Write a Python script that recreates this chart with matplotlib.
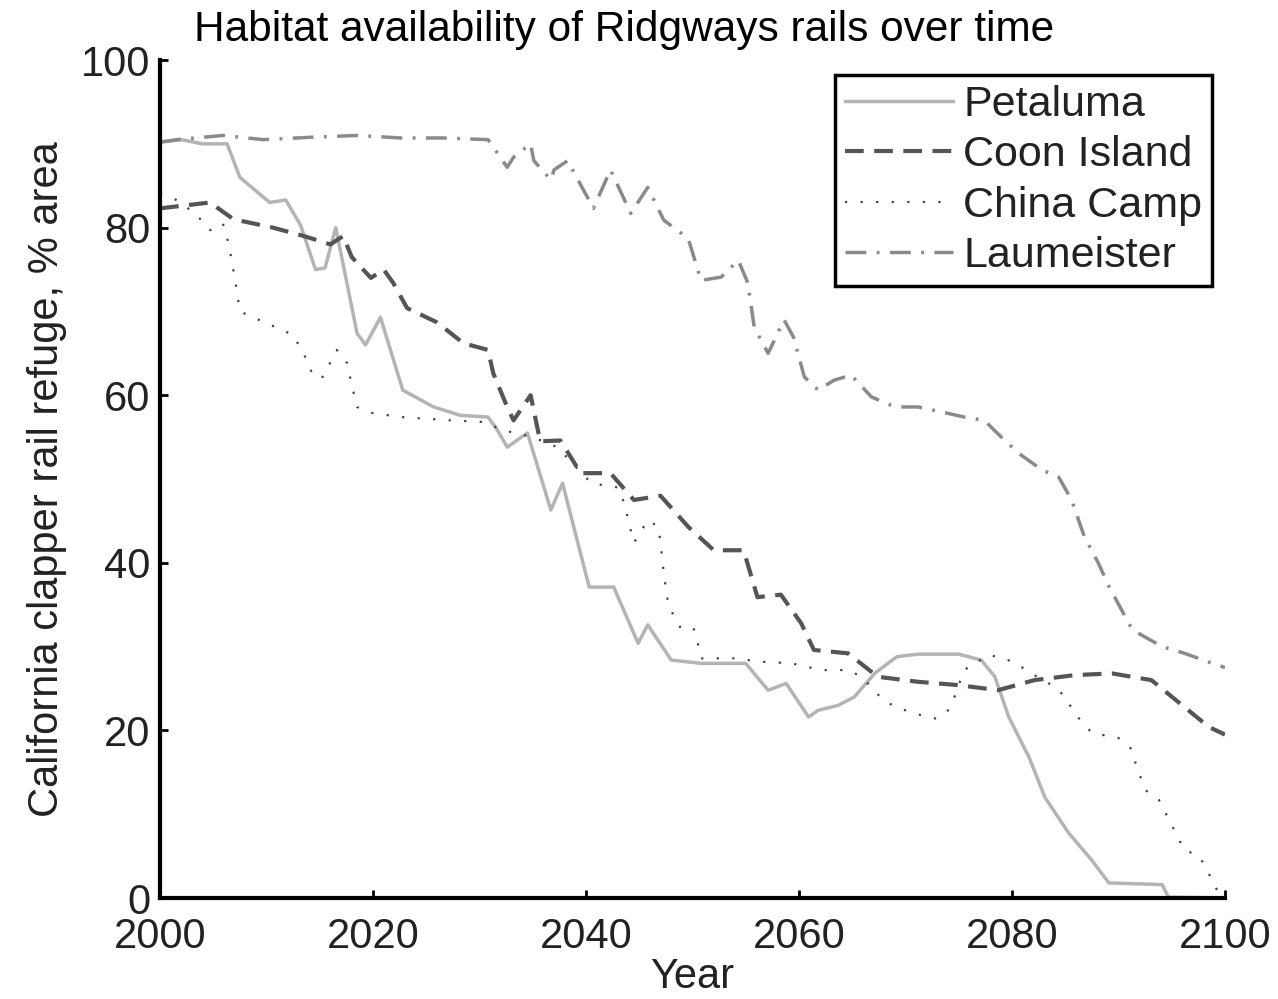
import matplotlib
matplotlib.use('Agg')
import matplotlib.pyplot as plt

plt.rcParams['font.family'] = ['Liberation Sans', 'DejaVu Sans']

# values (year, % area)
pet_years = [2000, 2002, 2004, 2006.3, 2007.5, 2010.3, 2011.8, 2013.2, 2014.6, 2015.5, 2016.5,
             2018.5, 2019.3, 2020.7, 2022.8, 2025.7, 2028.2, 2030.8, 2031.7, 2032.6, 2034.5,
             2035.1, 2036.7, 2037.8, 2040.3, 2042.6, 2044.9, 2045.8, 2048, 2050.8, 2055,
             2057.1, 2058.8, 2060.9, 2061.8, 2063.7, 2065.2, 2067.1, 2069.2, 2071.2, 2075,
             2077.1, 2078.4, 2079.7, 2081.6, 2083.1, 2085.3, 2087.5, 2089.1, 2094.1, 2094.7, 2100]
pet_vals = [90.2, 90.5, 90, 90, 86, 83, 83.3, 80.3, 75, 75.2, 80,
            67.4, 66, 69.3, 60.6, 58.6, 57.6, 57.4, 55.8, 53.8, 55.5,
            53, 46.3, 49.5, 37.1, 37.1, 30.4, 32.6, 28.4, 28, 28,
            24.8, 25.6, 21.6, 22.4, 23, 24, 26.8, 28.8, 29.1, 29.1,
            28.4, 26.4, 21.6, 16.8, 12, 7.8, 4.5, 1.8, 1.6, 0.1, 0]

coon_years = [2000, 2004.7, 2006.9, 2010.6, 2013.5, 2016, 2017.2, 2018, 2019.8, 2021, 2021.9,
              2023.2, 2026, 2028.5, 2030.8, 2031.3, 2032.6, 2033.2, 2034.8, 2035.7, 2037.6,
              2039.5, 2042.3, 2044.5, 2047, 2049.6, 2052, 2054.8, 2056.1, 2058.3, 2060.2,
              2061.4, 2064.6, 2067.4, 2071.2, 2075, 2078.7, 2082.1, 2085.9, 2089.4, 2093.1,
              2095.7, 2098.5, 2100]
coon_vals = [82.3, 83, 81, 80, 79, 78, 79, 76.5, 74, 75, 73.4,
             70.4, 68.7, 66.2, 65.4, 62.6, 58.6, 57, 60, 54.5, 54.6,
             50.7, 50.7, 47.5, 48, 44.3, 41.5, 41.5, 35.9, 36.2, 32.8,
             29.6, 29.2, 26.4, 25.8, 25.4, 24.8, 26, 26.6, 26.8, 26,
             23.3, 20.4, 19.5]

china_years = [2000, 2000.9, 2002, 2003.8, 2004.7, 2005.9, 2006.3, 2006.6, 2007.1, 2007.5, 2010,
               2012.5, 2013.8, 2014.4, 2015.3, 2016.6, 2017.6, 2017.9, 2018.5, 2019.8, 2022.6,
               2027.3, 2030.4, 2032.3, 2035, 2037.3, 2040.5, 2043, 2043.6, 2044.2, 2044.5,
               2045.8, 2046.8, 2047, 2047.3, 2047.7, 2048.3, 2048.9, 2050.1, 2050.5, 2050.8,
               2053.9, 2056.4, 2059.3, 2062.1, 2064.6, 2065.9, 2067.7, 2069, 2071.5, 2072.9,
               2074, 2074.6, 2075.5, 2077.8, 2079.3, 2080.6, 2082.1, 2084, 2085, 2085.9,
               2087.5, 2090, 2091.3, 2091.6, 2092.5, 2093.8, 2095, 2096.2, 2097.5, 2098.1,
               2098.8, 2099.4, 2100]
china_vals = [84, 83.7, 83, 81, 79.7, 80.5, 78.8, 77, 73.4, 70, 68.6,
              67.2, 64.2, 62.2, 62.2, 65.4, 63.8, 61.8, 58.6, 57.9, 57.4,
              57, 56.8, 55.8, 55, 53.8, 49.5, 49, 47.1, 43.9, 42.4,
              45.1, 44.3, 42.4, 38.8, 35.2, 33.5, 32.2, 32.2, 30.4, 28.6,
              28.6, 28.2, 28, 27.2, 27.2, 26.4, 23.9, 22.8, 21.8, 21.4,
              22.4, 24, 27.2, 29, 28.6, 27.8, 26.6, 25.2, 24, 22,
              19.7, 19.1, 17.7, 16.1, 12.9, 11.7, 8.7, 5.7, 5.1, 3.9,
              2.1, 0.6, 0]

laum_years = [2000, 2001.6, 2005.9, 2009.7, 2014.4, 2018.5, 2022.6, 2026.6, 2030.8, 2031.3, 2032.6,
              2033.2, 2034.8, 2035.1, 2036.7, 2037, 2038.3, 2038.9, 2040.7, 2042.3, 2044.2,
              2045.8, 2047.3, 2049.6, 2050.8, 2052.7, 2054.3, 2055.2, 2055.8, 2057.1, 2058.6,
              2059.5, 2060.5, 2061.8, 2063.3, 2064.9, 2066.8, 2069, 2071.2, 2073.4, 2075.5,
              2077.4, 2079, 2080.6, 2082.8, 2084.4, 2085.6, 2086.8, 2088.1, 2089.1, 2091.3,
              2094.1, 2096.2, 2098.8, 2100]
laum_vals = [90.2, 90.5, 91, 90.5, 90.8, 91, 90.7, 90.7, 90.5, 89.6, 87.2,
             88.4, 90, 88, 85.7, 86.9, 88, 86.5, 82.3, 86.9, 81.7,
             84.8, 80.9, 78.7, 73.7, 74.1, 76.1, 73.4, 68.1, 65, 69,
             66.9, 62.2, 60.6, 61.8, 62.4, 59.8, 58.6, 58.6, 58, 57.4,
             57, 55, 53.1, 51.1, 50.2, 47.5, 43.1, 40, 37.2, 32,
             30, 29.2, 28, 27.5]

fig = plt.figure(figsize=(12.78, 9.99), dpi=100)
ax = fig.add_axes([0.1252, 0.1011, 0.8333, 0.8388])

ax.plot(pet_years, pet_vals, color='#b4b4b4', lw=2.5, label='Petaluma')
ax.plot(coon_years, coon_vals, color='#555555', lw=3, dashes=(4.5, 2.5), label='Coon Island')
ax.plot(china_years, china_vals, color='#444444', lw=1.6, dashes=(1, 6), label='China Camp')
ax.plot(laum_years, laum_vals, color='#8a8a8a', lw=2.5, dashes=(6, 3, 0.8, 3), label='Laumeister')

ax.set_xlim(2000, 2100)
ax.set_ylim(0, 100)
ax.set_xticks([2000, 2020, 2040, 2060, 2080, 2100])
ax.set_yticks([0, 20, 40, 60, 80, 100])

for s in ['top', 'right']:
    ax.spines[s].set_visible(False)
for s in ['left', 'bottom']:
    ax.spines[s].set_linewidth(3)
ax.tick_params(axis='both', direction='in', length=6, width=2, labelsize=30, colors='black')
ax.tick_params(axis='x', pad=14)
ax.tick_params(axis='y', pad=7)
for lab in ax.get_xticklabels() + ax.get_yticklabels():
    lab.set_color('#222222')

ax.set_xlabel('Year', fontsize=30, color='#222222', labelpad=0)
ax.set_ylabel('California clapper rail refuge, % area', fontsize=30, color='#222222', labelpad=10)

leg = ax.legend(loc='upper right', bbox_to_anchor=(0.988, 0.982), borderaxespad=0,
                fontsize=31, handlelength=2.5, handletextpad=0.25, labelspacing=0.24,
                borderpad=0.23, fancybox=False, framealpha=1)
leg.get_frame().set_edgecolor('black')
leg.get_frame().set_linewidth(2.5)
for t in leg.get_texts():
    t.set_color('#222222')

fig.text(0.488, 0.97, 'Habitat availability of Ridgways rails over time',
         fontsize=30.5, ha='center', va='center')

fig.savefig('out.png', dpi=100)
